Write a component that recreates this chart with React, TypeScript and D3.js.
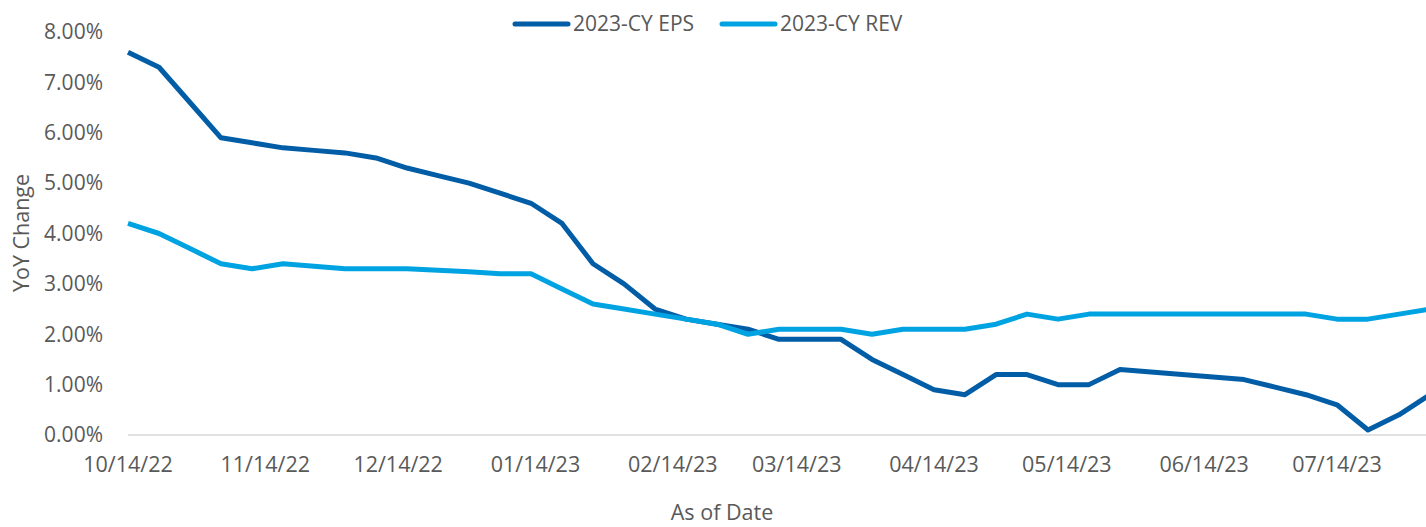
import React from 'react';
import * as d3 from 'd3';

// weekly observations, every Friday from 10/14/22
const startDate = '2022-10-14';
const endDate = '2023-08-04';

const epsValues = [
  7.6, 7.3, 6.6, 5.9, 5.8, 5.7, 5.65, 5.6, 5.5, 5.3, 5.15, 5.0, 4.8, 4.6, 4.2,
  3.4, 3.0, 2.5, 2.3, 2.2, 2.1, 1.9, 1.9, 1.9, 1.5, 1.2, 0.9, 0.8, 1.2, 1.2,
  1.0, 1.0, 1.3, 1.25, 1.2, 1.15, 1.1, 0.95, 0.8, 0.6, 0.1, 0.4, 0.8,
];

const revValues = [
  4.2, 4.0, 3.7, 3.4, 3.3, 3.4, 3.35, 3.3, 3.3, 3.3, 3.27, 3.24, 3.2, 3.2, 2.9,
  2.6, 2.5, 2.4, 2.3, 2.2, 2.0, 2.1, 2.1, 2.1, 2.0, 2.1, 2.1, 2.1, 2.2, 2.4,
  2.3, 2.4, 2.4, 2.4, 2.4, 2.4, 2.4, 2.4, 2.4, 2.3, 2.3, 2.4, 2.5,
];

const xTickDates = [
  '2022-10-14', '2022-11-14', '2022-12-14', '2023-01-14', '2023-02-14',
  '2023-03-14', '2023-04-14', '2023-05-14', '2023-06-14', '2023-07-14',
];

const yTicks = [0, 1, 2, 3, 4, 5, 6, 7, 8];

const seriesNames = ['2023-CY EPS', '2023-CY REV'];
const seriesColors = ['#005DA6', '#00A3E2'];

const parse = d3.utcParse('%Y-%m-%d');
const fmtTick = d3.utcFormat('%m/%d/%y');

const WIDTH = 1426;
const HEIGHT = 527;
const FONT = "'Open Sans', sans-serif";
const TEXT = '#595959';

export default function App() {
  const start = parse(startDate)!;
  const dates = epsValues.map((_, i) => d3.utcDay.offset(start, i * 7));

  const x = d3.scaleUtc().domain([start, parse(endDate)!]).range([128, 1430]);
  const y = d3.scaleLinear().domain([0, 8]).range([435, 32]);

  const line = d3
    .line<number>()
    .x((_, i) => x(dates[i]))
    .y((d) => y(d));

  const series = [epsValues, revValues];

  return (
    <svg
      width={WIDTH}
      height={HEIGHT}
      style={{ position: 'absolute', left: 0, top: 0, background: '#fff' }}
      fontFamily={FONT}
    >
      {/* zero baseline */}
      <line x1={128} x2={1426} y1={y(0)} y2={y(0)} stroke="#D9D9D9" strokeWidth={1.5} />

      {yTicks.map((t) => (
        <text
          key={t}
          x={103}
          y={y(t)}
          dy="0.35em"
          textAnchor="end"
          fontSize={21}
          fill={TEXT}
        >
          {d3.format('.2f')(t) + '%'}
        </text>
      ))}

      {xTickDates.map((d) => (
        <text
          key={d}
          x={x(parse(d)!)}
          y={472}
          textAnchor="middle"
          fontSize={21.5}
          fill={TEXT}
        >
          {fmtTick(parse(d)!)}
        </text>
      ))}

      <text
        transform={`translate(29,233) rotate(-90)`}
        textAnchor="middle"
        fontSize={21.5}
        fill={TEXT}
      >
        YoY Change
      </text>
      <text x={722} y={520} textAnchor="middle" fontSize={21.5} fill={TEXT}>
        As of Date
      </text>

      {series.map((s, i) => (
        <path
          key={seriesNames[i]}
          d={line(s) ?? ''}
          fill="none"
          stroke={seriesColors[i]}
          strokeWidth={5}
          strokeLinejoin="round"
        />
      ))}

      {/* legend */}
      {seriesNames.map((name, i) => {
        const lx = i === 0 ? 515 : 722;
        return (
          <g key={name}>
            <line
              x1={lx}
              x2={lx + 53}
              y1={24}
              y2={24}
              stroke={seriesColors[i]}
              strokeWidth={5}
              strokeLinecap="round"
            />
            <text x={lx + 58} y={24} dy="0.35em" fontSize={21} fill={TEXT}>
              {name}
            </text>
          </g>
        );
      })}
    </svg>
  );
}
